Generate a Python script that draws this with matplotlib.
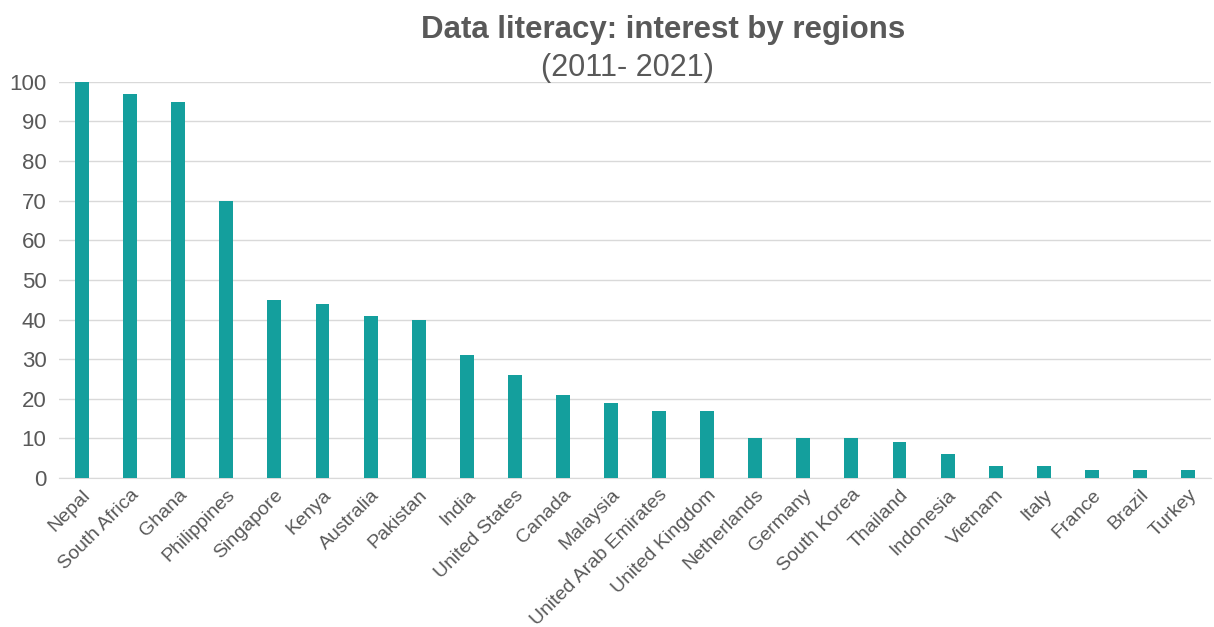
import matplotlib
matplotlib.use("Agg")
import matplotlib.pyplot as plt
import numpy as np

countries = ["Nepal", "South Africa", "Ghana", "Philippines", "Singapore", "Kenya",
             "Australia", "Pakistan", "India", "United States", "Canada", "Malaysia",
             "United Arab Emirates", "United Kingdom", "Netherlands", "Germany",
             "South Korea", "Thailand", "Indonesia", "Vietnam", "Italy", "France",
             "Brazil", "Turkey"]
interest = [100, 97, 95, 70, 45, 44, 41, 40, 31, 26, 21, 19, 17, 17, 10, 10, 10, 9, 6, 3, 3, 2, 2, 2]
yticks = [0, 10, 20, 30, 40, 50, 60, 70, 80, 90, 100]

plt.rcParams['font.family'] = ['Liberation Sans', 'DejaVu Sans']
gray = "#595959"

fig = plt.figure(figsize=(12.14, 6.27), dpi=100)
ax = fig.add_axes([0.0486, 0.2376, 0.949, 0.632])
x = np.arange(len(countries))
ax.bar(x, interest, width=0.29, color="#149F9D", zorder=3)
ax.set_xlim(-0.48, len(countries) - 0.52)
ax.set_ylim(0, 100)
ax.set_yticks(yticks)
ax.grid(axis="y", color="#d9d9d9", linewidth=1, zorder=0)
ax.set_axisbelow(True)
for s in ["top", "right", "left"]:
    ax.spines[s].set_visible(False)
ax.spines["bottom"].set_color("#d9d9d9")
ax.tick_params(axis="both", length=0, labelcolor=gray)
ax.tick_params(axis="y", pad=9, labelsize=16)
ax.set_xticks(x)
ax.set_xticklabels(countries, rotation=45, ha="right", rotation_mode="anchor")
ax.tick_params(axis="x", pad=6, labelsize=14)
for lbl in ax.get_yticklabels():
    lbl.set_clip_on(False)

fig.text(0.546, 0.952, "Data literacy: interest by regions", ha="center", va="center",
         fontsize=22.5, fontweight="bold", color=gray)
fig.text(0.517, 0.891, "(2011- 2021)", ha="center", va="center", fontsize=22, color=gray)

fig.savefig("out.png", dpi=100)
